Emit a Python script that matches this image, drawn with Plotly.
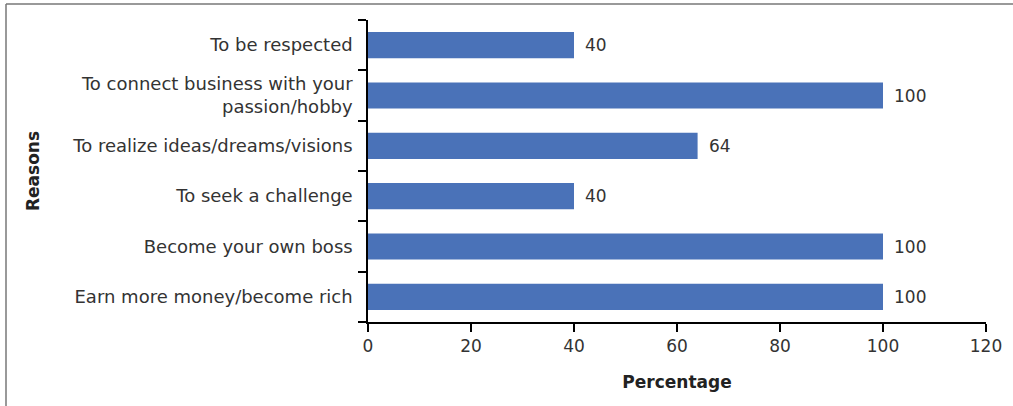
import plotly.graph_objects as go

categories = [
    "Earn more money/become rich",
    "Become your own boss",
    "To seek a challenge",
    "To realize ideas/dreams/visions",
    "To connect business with your<br>passion/hobby",
    "To be respected",
]
values = [100, 100, 40, 64, 100, 40]
x_ticks = [0, 20, 40, 60, 80, 100, 120]

W, H = 1013, 406
L, R, T, B = 368, W - 986, 20, H - 322
pw, ph = W - L - R, H - T - B

def px_x(x):
    return (x - L) / pw

def px_y(y):
    return (H - B - y) / ph

font = "DejaVu Sans"
txt = "#333333"

fig = go.Figure(go.Bar(
    y=categories, x=values, orientation="h",
    marker=dict(color="#4A72B8", line=dict(width=0)),
    cliponaxis=False,
))

for c, v in zip(categories, values):
    fig.add_annotation(x=v, y=c, text=str(v), showarrow=False,
                       xanchor="left", xshift=9,
                       font=dict(family=font, size=17, color=txt))

fig.update_layout(
    width=W, height=H,
    margin=dict(l=L, r=R, t=T, b=B),
    plot_bgcolor="white", paper_bgcolor="white",
    bargap=0.48,
    showlegend=False,
    font=dict(family=font, size=17, color=txt),
    xaxis=dict(
        range=[0, 120], tickvals=x_ticks, ticktext=[str(v) for v in x_ticks],
        showgrid=False, zeroline=False,
        showline=True, linecolor="black", linewidth=1.5,
        ticks="outside", ticklen=8, tickcolor="black", tickwidth=1.5,
        tickfont=dict(family=font, size=17, color=txt),
        title=dict(text="<b>Percentage</b>", font=dict(family=font, size=17, color="#222"), standoff=21),
    ),
    yaxis=dict(
        type="category", categoryorder="array", categoryarray=categories,
        showgrid=False, zeroline=False,
        showline=True, linecolor="black", linewidth=1.5,
        ticks="outside", ticklen=8, tickcolor="black", tickwidth=1.5,
        tickson="boundaries", ticklabelstandoff=10,
        tickfont=dict(family=font, size=18, color=txt),
        title=dict(text="<b>Reasons</b>", font=dict(family=font, size=17, color="#222"), standoff=28),
    ),
    shapes=[
        dict(type="line", xref="paper", yref="paper",
             x0=px_x(6), x1=px_x(W + 5), y0=px_y(4), y1=px_y(4),
             line=dict(color="#777777", width=1.5)),
        dict(type="line", xref="paper", yref="paper",
             x0=px_x(6), x1=px_x(6), y0=px_y(4), y1=px_y(H + 5),
             line=dict(color="#777777", width=1.5)),
    ],
)

fig.write_html("out.html")
